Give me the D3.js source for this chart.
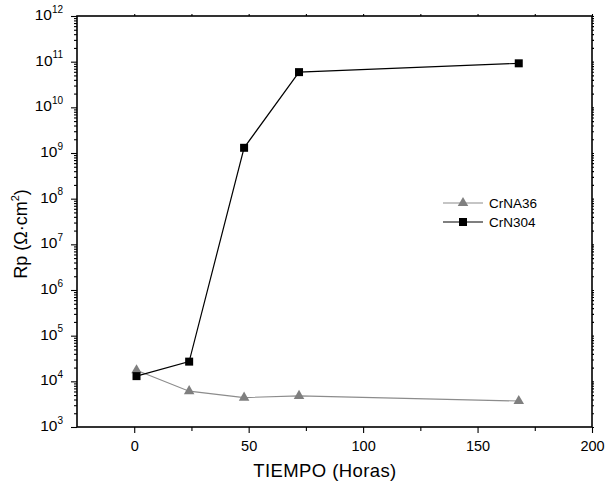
<!DOCTYPE html>
<html>
<head>
<meta charset="utf-8">
<script src="https://cdn.jsdelivr.net/npm/d3@7"></script>
<style>
  html, body { margin: 0; padding: 0; background: #fff; }
  svg { display: block; }
  text { font-family: "Liberation Sans", Arial, Helvetica, sans-serif; fill: #000; }
</style>
</head>
<body>
<svg id="chart" width="605" height="482"></svg>
<script>
// Polarization resistance over immersion time
const hours = [1, 24, 48, 72, 168];
const crNA36 = [1.75e4, 6.1e3, 4.4e3, 4.8e3, 3.7e3];
const crN304 = [1.3e4, 2.7e4, 1.3e9, 5.9e10, 9.2e10];
const seriesNames = ["CrNA36", "CrN304"];
const xTicks = [0, 50, 100, 150, 200];
const xMinorTicks = [25, 75, 125, 175];
const yExponents = [3, 4, 5, 6, 7, 8, 9, 10, 11, 12];
const xTitle = "TIEMPO (Horas)";

const svg = d3.select("#chart");
const plotL = 77, plotR = 592, plotT = 16, plotB = 427;

const x = d3.scaleLinear().domain([-25, 200]).range([plotL, plotR]);
const y = d3.scaleLog().domain([1e3, 1e12]).range([plotB, plotT]);

const yMajor = yExponents.map(e => Math.pow(10, e));
const yMinor = [];
yExponents.slice(0, -1).forEach(e => {
  for (let k = 2; k <= 9; k++) yMinor.push(k * Math.pow(10, e));
});

// Bottom axis: labelled major ticks and short minor ticks
const gx = svg.append("g").attr("transform", `translate(0,${plotB})`);
gx.call(d3.axisBottom(x).tickValues(xTicks).tickSize(6).tickPadding(8).tickFormat(d3.format("d")));
svg.append("g").attr("transform", `translate(0,${plotB})`)
  .call(d3.axisBottom(x).tickValues(xMinorTicks).tickSize(4).tickFormat(""));

// Left axis: decade labels as 10 with superscript exponent
const gy = svg.append("g").attr("transform", `translate(${plotL},0)`);
gy.call(d3.axisLeft(y).tickValues(yMajor).tickSize(6).tickPadding(8).tickFormat(() => ""));
svg.append("g").attr("transform", `translate(${plotL},0)`)
  .call(d3.axisLeft(y).tickValues(yMinor).tickSize(3).tickFormat(""));

// Mirrored top and right axes with tiny ticks
svg.append("g").attr("transform", `translate(0,${plotT})`)
  .call(d3.axisTop(x).tickValues(xTicks.concat(xMinorTicks)).tickSize(2).tickFormat(""));
svg.append("g").attr("transform", `translate(${plotR},0)`)
  .call(d3.axisRight(y).tickValues(yMajor.concat(yMinor)).tickSize(2).tickFormat(""));

svg.selectAll(".tick line").attr("stroke", "#000").attr("stroke-width", 1.1);
svg.selectAll(".tick text")
  .attr("font-family", '"Liberation Sans", Arial, sans-serif').attr("fill", "#000");
gx.selectAll(".tick text").attr("font-size", 14.5);

gy.selectAll(".tick text").each(function(d) {
  const t = d3.select(this);
  t.text(null).attr("dy", "0.36em");
  t.append("tspan").text("10").attr("font-size", 15.5);
  t.append("tspan").text(Math.round(Math.log10(d))).attr("font-size", 10).attr("dy", "-0.75em");
});

// Frame replaces the default axis paths
svg.selectAll(".domain").remove();
svg.append("rect")
  .attr("x", plotL).attr("y", plotT)
  .attr("width", plotR - plotL).attr("height", plotB - plotT)
  .attr("fill", "none").attr("stroke", "#000").attr("stroke-width", 1.6);

// Axis titles
svg.append("text")
  .attr("x", 325).attr("y", 477)
  .attr("text-anchor", "middle").attr("font-size", 18.5)
  .attr("letter-spacing", 0.4)
  .text(xTitle);

const yTitle = svg.append("text")
  .attr("transform", "translate(27,234) rotate(-90)")
  .attr("text-anchor", "middle").attr("font-size", 18);
yTitle.append("tspan").text("Rp (Ω·cm");
yTitle.append("tspan").text("2").attr("font-size", 11).attr("dy", "-0.7em");
yTitle.append("tspan").text(")").attr("dy", "0.45em");

const line = d3.line().x((d, i) => x(hours[i])).y(d => y(d));

// CrNA36 series: grey line with triangles
svg.append("path").datum(crNA36)
  .attr("d", line).attr("fill", "none")
  .attr("stroke", "#8c8c8c").attr("stroke-width", 1.1);
const tri = d3.symbol().type(d3.symbolTriangle).size(48);
svg.selectAll(".tri").data(crNA36).enter().append("path")
  .attr("class", "tri")
  .attr("d", tri)
  .attr("transform", (d, i) => `translate(${x(hours[i])},${y(d)})`)
  .attr("fill", "#7f7f7f");

// CrN304 series: black line with squares
svg.append("path").datum(crN304)
  .attr("d", line).attr("fill", "none")
  .attr("stroke", "#000").attr("stroke-width", 1.2);
svg.selectAll(".sq").data(crN304).enter().append("rect")
  .attr("class", "sq")
  .attr("x", (d, i) => x(hours[i]) - 4)
  .attr("y", d => y(d) - 4)
  .attr("width", 8).attr("height", 8)
  .attr("fill", "#000");

// Legend
const legend = svg.append("g");
const legendRows = [
  { name: seriesNames[0], color: "#8c8c8c", marker: "tri", y: 203 },
  { name: seriesNames[1], color: "#000", marker: "sq", y: 222 }
];
legendRows.forEach(r => {
  legend.append("line")
    .attr("x1", 443).attr("x2", 483).attr("y1", r.y).attr("y2", r.y)
    .attr("stroke", r.color).attr("stroke-width", 1.2);
  if (r.marker === "tri") {
    legend.append("path").attr("d", tri)
      .attr("transform", `translate(463,${r.y})`).attr("fill", "#7f7f7f");
  } else {
    legend.append("rect").attr("x", 459).attr("y", r.y - 4)
      .attr("width", 8).attr("height", 8).attr("fill", "#000");
  }
  legend.append("text")
    .attr("x", 489).attr("y", r.y).attr("dy", "0.36em")
    .attr("font-size", 13.5).text(r.name);
});
</script>
</body>
</html>
